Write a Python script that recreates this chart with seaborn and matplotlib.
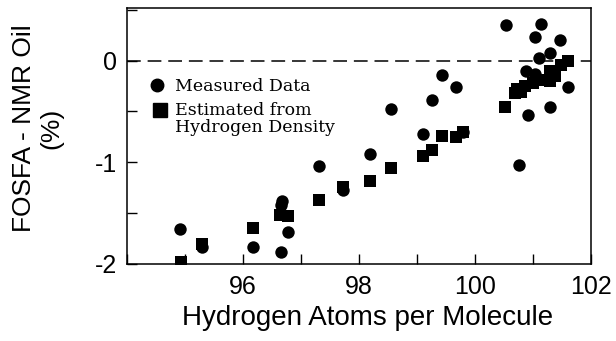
import numpy as np
import pandas as pd
import matplotlib
matplotlib.use("Agg")
import matplotlib.pyplot as plt
from matplotlib.ticker import MultipleLocator
import seaborn as sns

measured_x = [94.91, 95.30, 96.17, 96.66, 96.68, 96.65, 96.78, 97.32, 97.73, 98.19,
              98.56, 99.10, 99.27, 99.44, 99.67, 99.80, 100.53, 100.76, 100.91, 100.89,
              101.03, 101.14, 101.11, 101.29, 101.47, 101.29, 101.61, 101.03]
measured_y = [-1.66, -1.83, -1.83, -1.88, -1.38, -1.42, -1.69, -1.04, -1.27, -0.92,
              -0.48, -0.72, -0.39, -0.14, -0.26, -0.70, 0.35, -1.03, -0.53, -0.10,
              0.23, 0.36, 0.03, 0.08, 0.20, -0.46, -0.26, -0.13]
est_x = [94.93, 95.30, 96.18, 96.64, 96.78, 97.32, 97.73, 98.19, 98.56, 99.10,
         99.27, 99.44, 99.67, 99.79, 100.52, 100.69, 100.72, 100.80, 100.86, 101.00,
         101.12, 101.29, 101.38, 101.29, 101.49, 101.61]
est_y = [-1.98, -1.80, -1.65, -1.52, -1.53, -1.37, -1.24, -1.18, -1.06, -0.94,
         -0.88, -0.74, -0.75, -0.70, -0.46, -0.32, -0.28, -0.31, -0.25, -0.22,
         -0.19, -0.20, -0.15, -0.10, -0.04, 0.00]
series_names = ["Measured Data", "Estimated from", "Hydrogen Density"]
x_ticks = [96, 98, 100, 102]
y_ticks = [-2, -1, 0]

df = pd.DataFrame({
    "x": measured_x + est_x,
    "y": measured_y + est_y,
    "kind": ["measured"] * len(measured_x) + ["estimated"] * len(est_x),
})

sns.set_style("ticks")
plt.rcParams["font.family"] = ["Liberation Sans", "DejaVu Sans"]
plt.rcParams["axes.unicode_minus"] = False

fig = plt.figure(figsize=(6.16, 3.41), dpi=100)
ax = fig.add_axes([0.206, 0.226, 0.753, 0.751])

ax.axhline(0, color="black", lw=1.1, dashes=(9, 4.5), zorder=1)

sns.scatterplot(data=df[df.kind == "measured"], x="x", y="y", marker="o",
                s=80, color="black", edgecolor="black", linewidth=0, ax=ax, zorder=3,
                legend=False)
sns.scatterplot(data=df[df.kind == "estimated"], x="x", y="y", marker="s",
                s=72, color="black", edgecolor="black", linewidth=0, ax=ax, zorder=3,
                legend=False)

ax.set_xlim(94, 102)
ax.set_ylim(-2, 0.52)
ax.set_xticks(x_ticks)
ax.set_yticks(y_ticks)
ax.xaxis.set_minor_locator(MultipleLocator(1))
ax.yaxis.set_minor_locator(MultipleLocator(0.5))
ax.tick_params(axis="both", which="both", direction="in", length=7, width=1,
               labelsize=18, colors="black", labelcolor="black")
ax.tick_params(axis="x", pad=8)
ax.tick_params(axis="y", pad=7)
for s in ax.spines.values():
    s.set_linewidth(1.1)
    s.set_color("black")

ax.set_xlabel("Hydrogen Atoms per Molecule", fontsize=20, color="black")
ax.xaxis.set_label_coords(0.518, -0.16)
ax.xaxis.label.set_verticalalignment("top")
ax.set_ylabel("FOSFA - NMR Oil\n(%)", fontsize=19, color="black", linespacing=1.15)
ax.yaxis.set_label_coords(-0.138, 0.53)

# legend drawn in axes coordinates
serif = {"family": "DejaVu Serif", "size": 12.5}
ax.plot([0.0647], [0.699], marker="o", ms=9, color="black", ls="none",
        transform=ax.transAxes, clip_on=False)
ax.plot([0.071], [0.602], marker="s", ms=9.5, color="black", ls="none",
        transform=ax.transAxes, clip_on=False)
ax.text(0.1034, 0.677, series_names[0], transform=ax.transAxes, va="baseline",
        ha="left", fontdict=serif, color="black")
ax.text(0.1034, 0.582, series_names[1], transform=ax.transAxes, va="baseline",
        ha="left", fontdict=serif, color="black")
ax.text(0.1034, 0.517, series_names[2], transform=ax.transAxes, va="baseline",
        ha="left", fontdict=serif, color="black")

fig.savefig("out.png", dpi=100)
